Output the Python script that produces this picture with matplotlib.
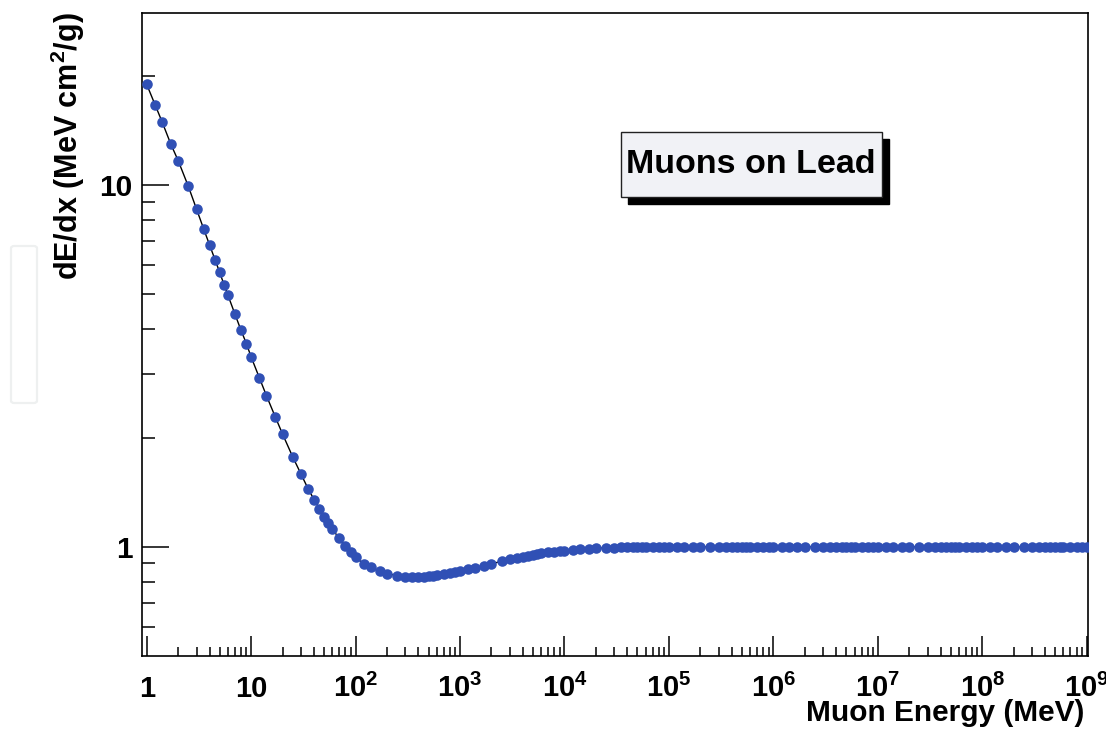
import matplotlib
matplotlib.use("Agg")
import matplotlib.pyplot as plt
from matplotlib.patches import Rectangle, FancyBboxPatch
from matplotlib.ticker import FixedLocator, FixedFormatter, NullFormatter

plt.rcParams['font.family'] = ['Liberation Sans', 'DejaVu Sans']
plt.rcParams['font.weight'] = 'bold'
plt.rcParams['mathtext.fontset'] = 'custom'
plt.rcParams['mathtext.rm'] = 'Liberation Sans:bold'
plt.rcParams['mathtext.bf'] = 'Liberation Sans:bold'

# tabulated energy steps inside each decade (MeV)
E_STEPS = [1.0, 1.2, 1.4, 1.7, 2.0, 2.5, 3.0, 3.5, 4.0, 4.5, 5.0, 5.5, 6.0, 7.0, 8.0, 9.0]
DECADES = list(range(9))
energy = [m * 10 ** d for d in DECADES for m in E_STEPS] + [1e9]

# dE/dx (MeV cm2/g), one row per decade
dedx_1 = [19.0, 16.7, 15.0, 13.0, 11.7, 9.94, 8.58, 7.59, 6.84, 6.23, 5.74, 5.31, 4.96, 4.40, 3.97, 3.65]
dedx_10 = [3.35, 2.93, 2.62, 2.29, 2.05, 1.774, 1.589, 1.450, 1.352, 1.276, 1.210, 1.161, 1.117, 1.055, 1.005, 0.965]
dedx_1e2 = [0.935, 0.898, 0.877, 0.856, 0.843, 0.833, 0.828, 0.826, 0.826, 0.827, 0.829, 0.831, 0.834, 0.839, 0.845, 0.851]
dedx_1e3 = [0.857, 0.867, 0.876, 0.888, 0.898, 0.912, 0.923, 0.932, 0.940, 0.946, 0.951, 0.955, 0.959, 0.965, 0.970, 0.974]
dedx_1e4 = [0.977, 0.982, 0.986, 0.989, 0.992, 0.994, 0.996, 0.997, 0.998, 0.998, 0.999, 0.999, 0.999, 1.0, 1.0, 1.0]
dedx_1e5 = [1.0, 1.0, 1.0, 1.0, 1.0, 1.0, 1.0, 1.0, 1.0, 1.0, 1.0, 1.0, 1.0, 1.0, 1.0, 1.0]
dedx_1e6 = [1.0, 1.0, 1.0, 1.0, 1.0, 1.0, 1.0, 1.0, 1.0, 1.0, 1.0, 1.0, 1.0, 1.0, 1.0, 1.0]
dedx_1e7 = [1.0, 1.0, 1.0, 1.0, 1.0, 1.0, 1.0, 1.0, 1.0, 1.0, 1.0, 1.0, 1.0, 1.0, 1.0, 1.0]
dedx_1e8 = [1.0, 1.0, 1.0, 1.0, 1.0, 1.0, 1.0, 1.0, 1.0, 1.0, 1.0, 1.0, 1.0, 1.0, 1.0, 1.0]
dedx_1e9 = [1.0]
dedx = (dedx_1 + dedx_10 + dedx_1e2 + dedx_1e3 + dedx_1e4 + dedx_1e5
        + dedx_1e6 + dedx_1e7 + dedx_1e8 + dedx_1e9)

XTICKS = [1, 10, 1e2, 1e3, 1e4, 1e5, 1e6, 1e7, 1e8, 1e9]
XTICK_LABELS = ['1', '10'] + [r'$\mathbf{10^{%d}}$' % k for k in range(2, 10)]
YTICKS = [1, 10]
YTICK_LABELS = ['1', '10']

fig = plt.figure(figsize=(11.06, 7.29), dpi=100)
ax = fig.add_axes([0.1281, 0.1005, 0.8556, 0.8821])

ax.plot(energy, dedx, color='black', lw=1.0, zorder=2)
ax.plot(energy, dedx, ls='none', marker='o', ms=7.6, color='#3050b5',
        markeredgewidth=0, zorder=3)

ax.set_xscale('log')
ax.set_yscale('log')
ax.set_xlim(0.895, 1.03e9)
ax.set_ylim(0.5, 30)

# ticks
ax.xaxis.set_major_locator(FixedLocator(XTICKS))
ax.xaxis.set_major_formatter(FixedFormatter(XTICK_LABELS))
ax.xaxis.set_minor_locator(FixedLocator([m * 10 ** d for d in DECADES for m in range(2, 10)]))
ax.xaxis.set_minor_formatter(NullFormatter())
ax.yaxis.set_major_locator(FixedLocator(YTICKS))
ax.yaxis.set_major_formatter(FixedFormatter(YTICK_LABELS))
ax.yaxis.set_minor_locator(FixedLocator([0.6, 0.7, 0.8, 0.9, 2, 3, 4, 5, 6, 7, 8, 9, 20]))
ax.yaxis.set_minor_formatter(NullFormatter())

ax.tick_params(axis='both', which='both', direction='in', width=1.1, color='black',
               top=False, right=False)
ax.tick_params(axis='x', which='major', length=14.5, pad=29.5, labelsize=21)
ax.tick_params(axis='x', which='minor', length=6.5)
ax.tick_params(axis='y', which='major', length=19.5, pad=6.5, labelsize=21.5)
ax.tick_params(axis='y', which='minor', length=9.5)
for lab in ax.get_xticklabels():
    lab.set_verticalalignment('baseline')
    lab.set_fontweight('bold')
for lab in ax.get_yticklabels():
    lab.set_fontweight('bold')

for sp in ax.spines.values():
    sp.set_linewidth(1.2)
    sp.set_color('black')

# axis titles
fig.text(1084 / 1106, 1 - 721 / 729, 'Muon Energy (MeV)', ha='right', va='baseline',
         fontsize=21.5, fontweight='bold')
fig.text(68 / 1106, 1 - 12 / 729, r'dE/dx (MeV cm$^{\mathbf{2}}$/g)', rotation=90,
         ha='center', va='top', fontsize=22, fontweight='bold')

# label box with drop shadow
bx0, by0, bw, bh = 0.506, 0.714, 0.276, 0.101
ax.add_patch(Rectangle((bx0 + 0.0075, by0 - 0.011), bw, bh, transform=ax.transAxes,
                       facecolor='black', edgecolor='black', zorder=4))
ax.add_patch(Rectangle((bx0, by0), bw, bh, transform=ax.transAxes,
                       facecolor='#f1f2f6', edgecolor='#222222', lw=1.0, zorder=5))
ax.text(bx0 + bw / 2, by0 + bh / 2, 'Muons on Lead', transform=ax.transAxes,
        ha='center', va='center', fontsize=24.5, fontweight='bold', zorder=6)

# faint empty frame at the left edge of the picture
fig.patches.append(FancyBboxPatch((11 / 1106, 1 - 403 / 729), 26 / 1106, 157 / 729,
                                  boxstyle='round,pad=0,rounding_size=0.003',
                                  transform=fig.transFigure, facecolor='white',
                                  edgecolor='#eef0f0', lw=1.6))

fig.savefig('out.png', dpi=100, facecolor='white')
